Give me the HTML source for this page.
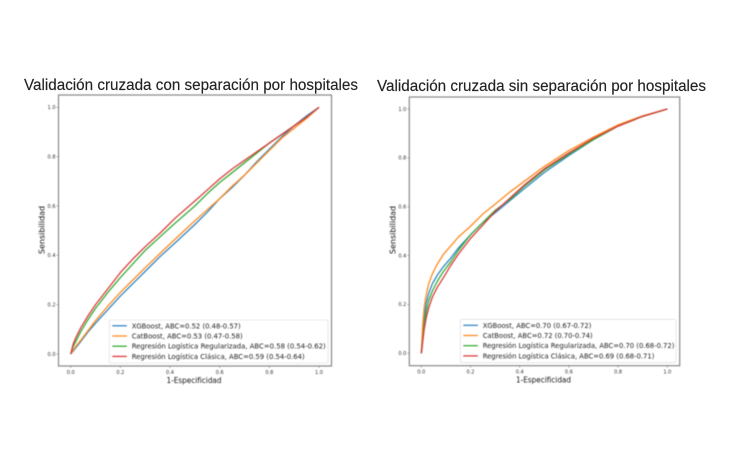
<!DOCTYPE html>
<html lang="es">
<head>
<meta charset="utf-8">
<title>Validación cruzada</title>
<style>
html,body{margin:0;padding:0;background:#fff;width:750px;height:469px;overflow:hidden}
svg{display:block;font-family:"DejaVu Sans","Liberation Sans",sans-serif}
.soft{filter:blur(0.45px)}
#titles{filter:blur(0.3px);font-family:"Liberation Sans",sans-serif}
</style>
</head>
<body>
<svg id="figure" width="750" height="469" viewBox="0 0 750 469" xmlns="http://www.w3.org/2000/svg">
  <g id="left" class="soft"></g>
  <g id="right" class="soft"></g>
  <g id="titles"></g>
</svg>
<script>
// Tick labels
const tickLabels = ["0.0", "0.2", "0.4", "0.6", "0.8", "1.0"];
const seriesColors = ["#2f86c4", "#ff8a1e", "#35ad35", "#de3a3b"];

// Left panel data
const leftTitle = "Validación cruzada con separación por hospitales";
const leftFpr = [0, .01, .02, .04, .07, .1, .15, .2, .25, .3, .36, .42, .5, .55, .6, .65, .7, .75, .8, .85, .9, .95, 1];
const leftXGBoost = [0, .012, .025, .05, .09, .125, .18, .235, .285, .335, .395, .45, .525, .575, .63, .675, .725, .78, .83, .88, .925, .965, 1];
const leftCatBoost = [0, .015, .03, .055, .095, .135, .195, .25, .30, .35, .408, .465, .54, .585, .63, .68, .725, .775, .825, .875, .915, .955, 1];
const leftRegularizada = [0, .03, .05, .09, .14, .185, .25, .31, .365, .42, .475, .53, .6, .65, .695, .735, .775, .815, .855, .89, .925, .96, 1];
const leftClasica = [0, .04, .065, .105, .155, .2, .265, .33, .385, .435, .49, .55, .62, .665, .71, .75, .785, .82, .855, .89, .925, .96, 1];
const leftLegend = [
  "XGBoost, ABC=0.52 (0.48-0.57)",
  "CatBoost, ABC=0.53 (0.47-0.58)",
  "Regresión Logística Regularizada, ABC=0.58 (0.54-0.62)",
  "Regresión Logística Clásica, ABC=0.59 (0.54-0.64)"
];

// Right panel data
const rightTitle = "Validación cruzada sin separación por hospitales";
const rightFpr = [0, .003, .006, .012, .02, .03, .045, .065, .09, .12, .15, .2, .25, .3, .36, .42, .5, .6, .7, .8, .9, 1];
const rightXGBoost = [0, .04, .08, .15, .205, .245, .285, .32, .355, .39, .43, .485, .535, .575, .625, .675, .74, .81, .875, .93, .97, 1];
const rightCatBoost = [0, .06, .12, .19, .24, .285, .325, .365, .405, .44, .475, .52, .57, .61, .66, .705, .765, .83, .885, .935, .972, 1];
const rightRegularizada = [0, .03, .06, .12, .17, .215, .255, .295, .335, .375, .42, .485, .535, .585, .63, .685, .75, .815, .875, .93, .97, 1];
const rightClasica = [0, .02, .05, .1, .145, .185, .23, .27, .31, .36, .405, .47, .525, .58, .635, .69, .755, .82, .88, .93, .97, 1];
const rightLegend = [
  "XGBoost, ABC=0.70 (0.67-0.72)",
  "CatBoost, ABC=0.72 (0.70-0.74)",
  "Regresión Logística Regularizada, ABC=0.70 (0.68-0.72)",
  "Regresión Logística Clásica, ABC=0.69 (0.68-0.71)"
];

const NS = "http://www.w3.org/2000/svg";
function make(parent, tag, attrs, text) {
  const el = document.createElementNS(NS, tag);
  for (const k in attrs) el.setAttribute(k, attrs[k]);
  if (text !== undefined) el.textContent = text;
  parent.appendChild(el);
  return el;
}

function drawPanel(g, layout, title, fpr, seriesList, legend) {
  const sx = v => layout.x0 + v * (layout.x1 - layout.x0);
  const sy = v => layout.y0 + v * (layout.y1 - layout.y0);

  const titleEl = make(document.getElementById("titles"), "text", {x: layout.titleX, y: layout.titleY, "font-size": 16, fill: "#222",
    stroke: "#222", "stroke-width": .15, textLength: layout.titleW, lengthAdjust: "spacingAndGlyphs"}, title);
  
  

  const frame = make(g, "rect", {x: layout.left, y: layout.top, width: layout.right - layout.left,
    height: layout.bottom - layout.top, fill: "#fff", stroke: "#888", "stroke-width": 1.2});
  
  

  tickLabels.forEach(label => {
    const v = parseFloat(label);
    const xt = make(g, "line", {x1: sx(v), x2: sx(v), y1: layout.bottom, y2: layout.bottom + 2, stroke: "#666", "stroke-width": .5});
    
    
    const xl = make(g, "text", {x: sx(v), y: layout.bottom + 8, "font-size": 5, fill: "#333", "text-anchor": "middle"}, label);
    
    
    const yt = make(g, "line", {x1: layout.left - 2, x2: layout.left, y1: sy(v), y2: sy(v), stroke: "#666", "stroke-width": .5});
    
    
    const yl = make(g, "text", {x: layout.left - 3, y: sy(v) + 1.8, "font-size": 5, fill: "#333", "text-anchor": "end"}, label);
    
    
  });

  seriesList.forEach((vals, i) => {
    const pts = vals.map((v, j) => sx(fpr[j]).toFixed(2) + "," + sy(v).toFixed(2)).join(" ");
    const line = make(g, "polyline", {points: pts, fill: "none", stroke: seriesColors[i], "stroke-width": 1.3, "stroke-linejoin": "round"});
    
    
  });

  const xLabel = make(g, "text", {x: (layout.left + layout.right) / 2 - 1, y: layout.bottom + 17, "font-size": 8, fill: "#111",
    "text-anchor": "middle", textLength: 55, lengthAdjust: "spacingAndGlyphs"}, "1-Especificidad");
  
  

  const yLabel = make(g, "text", {transform: "translate(" + layout.yLabelX + " " + layout.yLabelY + ") rotate(-90)", "font-size": 8, fill: "#111",
    "text-anchor": "middle"}, "Sensibilidad");
  
  

  const box = make(g, "rect", {x: layout.legX, y: layout.legY, width: layout.legW, height: layout.legH, rx: 1.5,
    fill: "#fff", "fill-opacity": .9, stroke: "#d8d8d8", "stroke-width": .6});
  
  

  legend.forEach((label, i) => {
    const y = layout.legRow0 + i * layout.legStep;
    const sw = make(g, "line", {x1: layout.legX + 3, x2: layout.legX + 17.5, y1: y, y2: y, stroke: seriesColors[i], "stroke-width": 1.3});
    
    
    const t = make(g, "text", {x: layout.legX + 22.4, y: y + 2.5, "font-size": 7, fill: "#222",
      textLength: layout.legWidths[i], lengthAdjust: "spacingAndGlyphs"}, label);
    
    
  });
}

drawPanel(document.getElementById("left"), {
  x0: 70.7, x1: 319, y0: 354, y1: 107.3, left: 58.5, right: 331.5, top: 95, bottom: 366,
  titleX: 24, titleY: 90, titleW: 334, yLabelX: 44.5, yLabelY: 230,
  legX: 109.3, legY: 320, legW: 218.7, legH: 43, legRow0: 325.8, legStep: 10.2,
  legWidths: [109, 111, 194, 173]
}, leftTitle, leftFpr, [leftXGBoost, leftCatBoost, leftRegularizada, leftClasica], leftLegend);

drawPanel(document.getElementById("right"), {
  x0: 421.3, x1: 667.3, y0: 353.3, y1: 109, left: 409.3, right: 679.7, top: 97, bottom: 365.7,
  titleX: 377, titleY: 91, titleW: 329, yLabelX: 395.5, yLabelY: 230,
  legX: 460.3, legY: 319.3, legW: 215.7, legH: 43.4, legRow0: 325.3, legStep: 10.2,
  legWidths: [108.7, 110, 191.7, 171.7]
}, rightTitle, rightFpr, [rightXGBoost, rightCatBoost, rightRegularizada, rightClasica], rightLegend);
</script>
</body>
</html>
